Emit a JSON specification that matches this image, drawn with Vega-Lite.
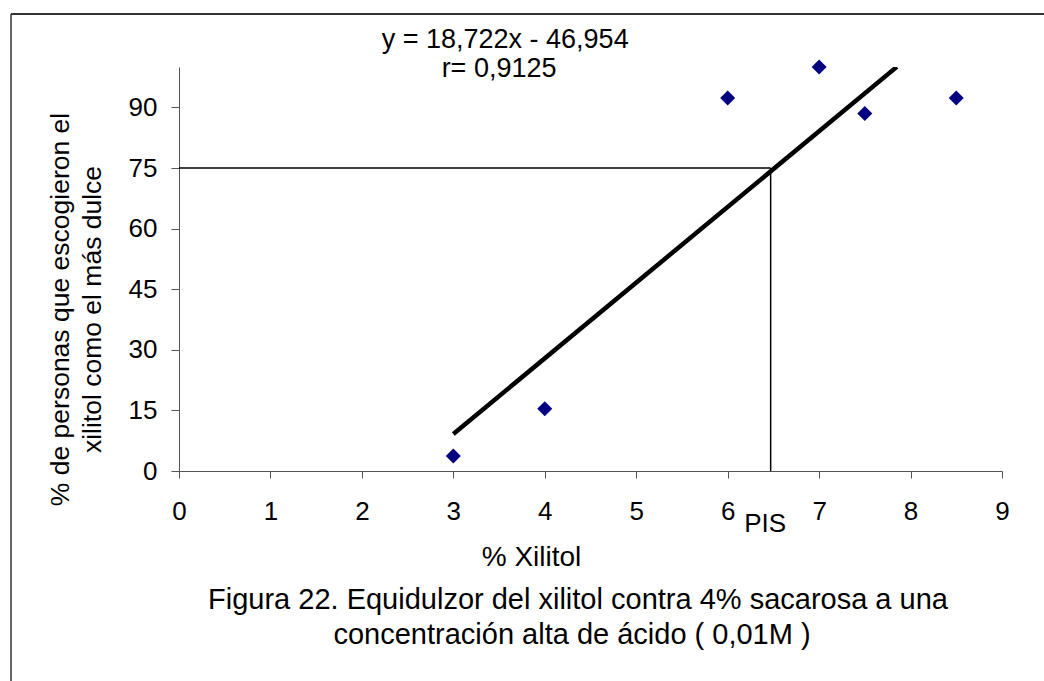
{
  "$schema": "https://vega.github.io/schema/vega-lite/v6.json",
  "width": 823,
  "height": 404,
  "autosize": "none",
  "padding": {"left": 179, "top": 67, "right": 42, "bottom": 210},
  "background": "white",
  "config": {
    "view": {"stroke": null},
    "font": "Liberation Sans",
    "axis": {
      "domainColor": "#555555",
      "tickColor": "#555555",
      "labelColor": "#000000",
      "titleColor": "#000000",
      "labelFont": "Liberation Sans",
      "titleFont": "Liberation Sans",
      "labelFontSize": 26,
      "titleFontSize": 26.5,
      "titleFontWeight": "normal",
      "grid": false,
      "labelOverlap": false,
      "labelFlush": false
    }
  },
  "datasets": {
    "pts": [
      {"xilitol": 3, "pct": 3.7},
      {"xilitol": 4, "pct": 15.4},
      {"xilitol": 6, "pct": 92.3},
      {"xilitol": 7, "pct": 100},
      {"xilitol": 7.5, "pct": 88.5},
      {"xilitol": 8.5, "pct": 92.3}
    ],
    "one": [{}]
  },
  "layer": [
    {
      "data": {"name": "pts"},
      "mark": {"type": "point", "shape": "diamond", "filled": true, "size": 225, "color": "#000080", "opacity": 1},
      "encoding": {
        "x": {
          "field": "xilitol", "type": "quantitative",
          "scale": {"domain": [0, 9], "nice": false, "zero": false},
          "axis": {
            "values": [0, 1, 2, 3, 4, 5, 6, 7, 8, 9],
            "format": "d",
            "tickSize": 7,
            "labelPadding": 20,
            "title": "% Xilitol",
            "titleFontSize": 28,
            "titleX": 352,
            "titleY": 94,
            "titleBaseline": "alphabetic",
            "titleAnchor": "middle"
          }
        },
        "y": {
          "field": "pct", "type": "quantitative",
          "scale": {"domain": [0, 100], "nice": false, "zero": false},
          "axis": {
            "values": [0, 15, 30, 45, 60, 75, 90],
            "format": "d",
            "tickSize": 8,
            "labelPadding": 14,
            "title": ["% de personas que escogieron el", "xilitol como el más dulce"],
            "titleAngle": -90,
            "titleBaseline": "middle",
            "titleLineHeight": 32,
            "titleX": -119,
            "titleY": 242,
            "titleAnchor": "middle"
          }
        }
      }
    },
    {
      "data": {"name": "pts"},
      "transform": [{"regression": "pct", "on": "xilitol", "extent": [3, 7.85]}],
      "mark": {"type": "line", "color": "#000000", "strokeWidth": 4.5, "clip": true},
      "encoding": {
        "x": {"field": "xilitol", "type": "quantitative"},
        "y": {"field": "pct", "type": "quantitative"}
      }
    },
    {
      "data": {"name": "one"},
      "mark": {"type": "rule", "color": "#000000", "strokeWidth": 1.5},
      "encoding": {
        "x": {"datum": 0},
        "x2": {"datum": 6.47},
        "y": {"datum": 75}
      }
    },
    {
      "data": {"name": "one"},
      "mark": {"type": "rule", "color": "#000000", "strokeWidth": 1.5},
      "encoding": {
        "x": {"datum": 6.47},
        "y": {"datum": 0},
        "y2": {"datum": 75}
      }
    },
    {
      "data": {"name": "one"},
      "mark": {"type": "text", "text": "y = 18,722x - 46,954", "fontSize": 27, "align": "center", "baseline": "alphabetic", "font": "Liberation Sans", "color": "#000000", "clip": false},
      "encoding": {
        "x": {"datum": 3.567},
        "y": {"datum": 104.7}
      }
    },
    {
      "data": {"name": "one"},
      "mark": {"type": "text", "text": "r= 0,9125", "fontSize": 27, "align": "center", "baseline": "alphabetic", "font": "Liberation Sans", "color": "#000000", "clip": false},
      "encoding": {
        "x": {"datum": 3.5},
        "y": {"datum": 97.5}
      }
    },
    {
      "data": {"name": "one"},
      "mark": {"type": "text", "text": "PIS", "fontSize": 26, "align": "center", "baseline": "alphabetic", "font": "Liberation Sans", "color": "#000000", "clip": false},
      "encoding": {
        "x": {"datum": 6.41},
        "y": {"datum": -15.1}
      }
    },
    {
      "data": {"name": "one"},
      "mark": {"type": "text", "text": "Figura 22. Equidulzor del xilitol contra 4% sacarosa a una", "fontSize": 29, "align": "center", "baseline": "alphabetic", "font": "Liberation Sans", "color": "#000000", "clip": false},
      "encoding": {
        "x": {"datum": 4.363},
        "y": {"datum": -34.16}
      }
    },
    {
      "data": {"name": "one"},
      "mark": {"type": "text", "text": "concentración alta de ácido  ( 0,01M )", "fontSize": 29, "align": "center", "baseline": "alphabetic", "font": "Liberation Sans", "color": "#000000", "clip": false},
      "encoding": {
        "x": {"datum": 4.298},
        "y": {"datum": -42.82}
      }
    },
    {
      "data": {"name": "one"},
      "mark": {"type": "rule", "color": "#333333", "strokeWidth": 2, "clip": false},
      "encoding": {
        "x": {"datum": -1.837},
        "x2": {"datum": 10},
        "y": {"datum": 113.1}
      }
    },
    {
      "data": {"name": "one"},
      "mark": {"type": "rule", "color": "#333333", "strokeWidth": 1.5, "clip": false},
      "encoding": {
        "x": {"datum": -1.837},
        "y": {"datum": 113.1},
        "y2": {"datum": -60}
      }
    }
  ]
}
